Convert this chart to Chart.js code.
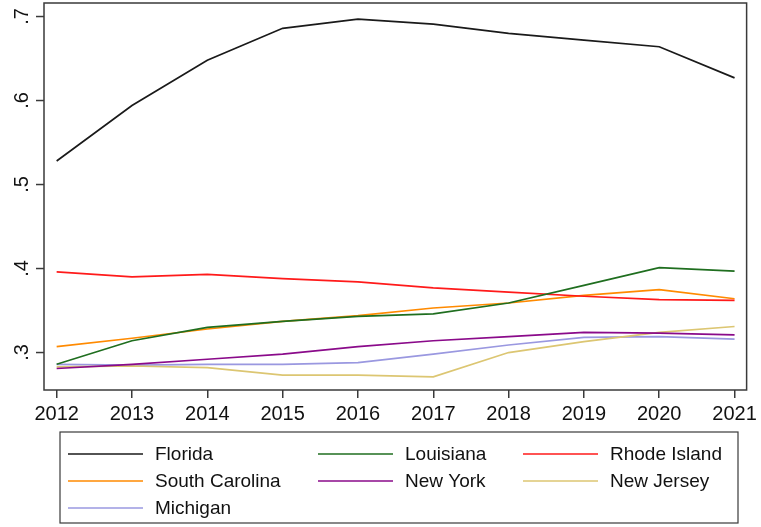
<!DOCTYPE html>
<html>
<head>
<meta charset="utf-8">
<script src="https://cdn.jsdelivr.net/npm/chart.js"></script>
<style>
  html, body { margin: 0; padding: 0; background: #fff; }
  #wrap { width: 761px; height: 527px; }
</style>
</head>
<body>
<div id="wrap"><canvas id="stateChart" width="761" height="527"></canvas></div>
<script>
// years on the x axis
const years = [2012, 2013, 2014, 2015, 2016, 2017, 2018, 2019, 2020, 2021];
// y tick values and their labels (Stata style, no leading zero)
const yTicks = [0.3, 0.4, 0.5, 0.6, 0.7];
const yTickLabels = ['.3', '.4', '.5', '.6', '.7'];

// series values
const florida = [0.528, 0.594, 0.648, 0.686, 0.697, 0.691, 0.680, 0.672, 0.664, 0.627];
const louisiana = [0.286, 0.314, 0.330, 0.337, 0.343, 0.346, 0.359, 0.380, 0.401, 0.397];
const rhodeIsland = [0.396, 0.390, 0.393, 0.388, 0.384, 0.377, 0.372, 0.367, 0.363, 0.362];
const southCarolina = [0.307, 0.317, 0.328, 0.337, 0.344, 0.353, 0.359, 0.368, 0.375, 0.364];
const newYork = [0.281, 0.286, 0.292, 0.298, 0.307, 0.314, 0.319, 0.324, 0.323, 0.321];
const newJersey = [0.283, 0.284, 0.282, 0.273, 0.273, 0.271, 0.300, 0.313, 0.324, 0.331];
const michigan = [0.286, 0.285, 0.286, 0.286, 0.288, 0.298, 0.309, 0.318, 0.319, 0.316];

const seriesNames = ['Florida', 'Louisiana', 'Rhode Island', 'South Carolina', 'New York', 'New Jersey', 'Michigan'];
const seriesValues = [florida, louisiana, rhodeIsland, southCarolina, newYork, newJersey, michigan];
const seriesColors = ['#1a1a1a', '#1f6e1f', '#ff1a1a', '#ff8a00', '#8a0a8a', '#dcc672', '#9a98e0'];

const FONT = '"Liberation Sans", Arial, sans-serif';

const datasets = seriesNames.map((name, i) => ({
  label: name,
  data: years.map((yr, j) => ({ x: yr, y: seriesValues[i][j] })),
  borderColor: seriesColors[i],
  backgroundColor: seriesColors[i],
  borderWidth: 1.7,
  pointRadius: 0,
  tension: 0,
  fill: false
}));

// frame, rotated y labels and the boxed legend
const stataPlugin = {
  id: 'stataExtras',
  afterDraw(chart) {
    const ctx = chart.ctx;
    const area = chart.chartArea;
    const ys = chart.scales.y;

    ctx.save();
    ctx.strokeStyle = '#3a3a3a';
    ctx.lineWidth = 1.5;
    ctx.strokeRect(area.left, area.top, area.right - area.left, area.bottom - area.top);

    // y tick marks and rotated labels
    ctx.fillStyle = '#111';
    ctx.font = '20px ' + FONT;
    ctx.textAlign = 'center';
    ctx.textBaseline = 'middle';
    yTicks.forEach((v, i) => {
      const py = ys.getPixelForValue(v);
      ctx.beginPath();
      ctx.moveTo(area.left - 8, py);
      ctx.lineTo(area.left, py);
      ctx.stroke();
      ctx.save();
      ctx.translate(22, py);
      ctx.rotate(-Math.PI / 2);
      ctx.fillText(yTickLabels[i], 0, 0);
      ctx.restore();
    });

    // legend box
    const boxL = 60, boxT = 432, boxW = 678, boxH = 91;
    ctx.strokeStyle = '#3a3a3a';
    ctx.lineWidth = 1.2;
    ctx.strokeRect(boxL, boxT, boxW, boxH);
    const colX = [68, 318, 523];
    const rowY = [454, 481, 508];
    ctx.textAlign = 'left';
    ctx.font = '19px ' + FONT;
    seriesNames.forEach((name, i) => {
      const cx = colX[i % 3];
      const cy = rowY[Math.floor(i / 3)];
      ctx.strokeStyle = seriesColors[i];
      ctx.lineWidth = 1.7;
      ctx.beginPath();
      ctx.moveTo(cx, cy);
      ctx.lineTo(cx + 75, cy);
      ctx.stroke();
      ctx.fillStyle = '#111';
      ctx.fillText(name, cx + 87, cy + 1);
    });
    ctx.restore();
  }
};

new Chart(document.getElementById('stateChart'), {
  type: 'line',
  data: { datasets: datasets },
  options: {
    responsive: false,
    animation: false,
    layout: { padding: { top: 3, right: 11, left: 0, bottom: 0 } },
    plugins: {
      legend: { display: false },
      tooltip: { enabled: false }
    },
    scales: {
      x: {
        type: 'linear',
        min: 2011.832,
        max: 2021.16,
        afterBuildTicks: (scale) => { scale.ticks = years.map(v => ({ value: v })); },
        afterFit: (scale) => { scale.height = 137; },
        grid: { drawOnChartArea: false, drawTicks: true, tickLength: 8, color: '#3a3a3a', lineWidth: 1.5 },
        border: { display: false },
        ticks: {
          color: '#111',
          padding: 4,
          maxRotation: 0,
          autoSkip: false,
          font: { family: FONT, size: 20 },
          callback: (v) => String(v)
        }
      },
      y: {
        min: 0.2554,
        max: 0.7161,
        afterBuildTicks: (scale) => { scale.ticks = yTicks.map(v => ({ value: v })); },
        afterFit: (scale) => { scale.width = 44; },
        grid: { display: false },
        border: { display: false },
        ticks: { display: false }
      }
    }
  },
  plugins: [stataPlugin]
});
</script>
</body>
</html>
